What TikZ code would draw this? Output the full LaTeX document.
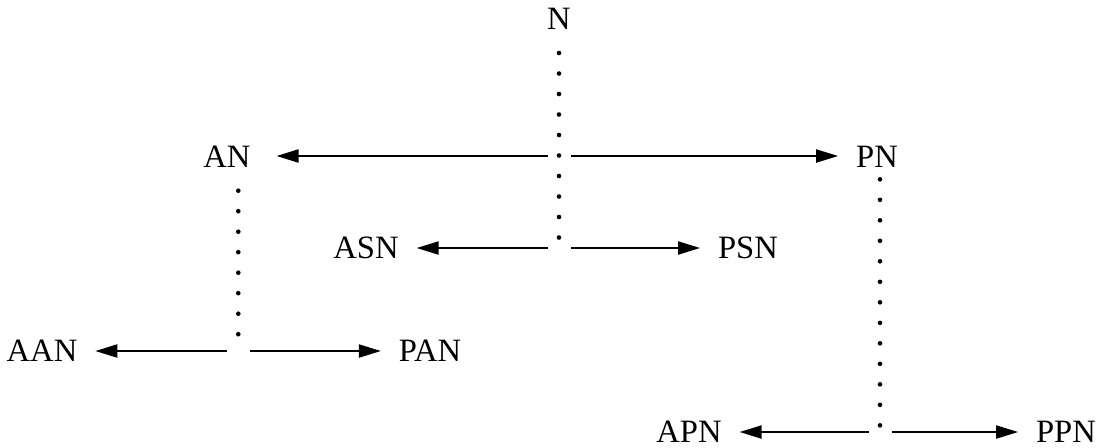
\documentclass[tikz,border=0pt]{standalone}
\usepackage{fontspec}
\setmainfont{Liberation Serif}
\usetikzlibrary{arrows.meta}
\begin{document}
\begin{tikzpicture}[x=0.5pt,y=-0.5pt,
  lbl/.style={inner sep=0pt, outer xsep=9pt, font=\fontsize{16.3}{19}\selectfont},
  arr/.style={line width=1pt, -{Triangle[length=11pt,width=6.5pt]}, shorten <=5.75pt},
  dotline/.style={line width=2.3pt, line cap=round, dash pattern=on 0pt off 10.25pt}]
\useasboundingbox (0,0) rectangle (1104,447);
% labels
\node[lbl] (N) at (559,19) {N};
\node[lbl] (AN) at (227,157) {AN};
\node[lbl] (PN) at (877,157) {PN};
\node[lbl] (ASN) at (366,248) {ASN};
\node[lbl] (PSN) at (748,248) {PSN};
\node[lbl] (AAN) at (42,351) {AAN};
\node[lbl] (PAN) at (430,351) {PAN};
\node[lbl] (APN) at (689,432) {APN};
\node[lbl] (PPN) at (1066,432) {PPN};
% junctions
\coordinate (J1) at (559.5,156);
\coordinate (J2) at (559.5,248);
\coordinate (J3) at (238.5,351);
\coordinate (J4) at (880,432);
% dotted stems
\coordinate (Ns) at (559,53);   \coordinate (Ne) at (559,240);
\coordinate (ANs) at (238.3,190.7); \coordinate (ANe) at (238.3,336);
\coordinate (PNs) at (880,179.3); \coordinate (PNe) at (880,427);
\draw[dotline] (Ns) -- (Ne);
\draw[dotline] (ANs) -- (ANe);
\draw[dotline] (PNs) -- (PNe);
% arrows
\draw[arr, shorten >=4pt] (J1) -- (AN.east |- J1);
\draw[arr] (J1) -- (PN.west |- J1);
\draw[arr] (J2) -- (ASN.east |- J2);
\draw[arr] (J2) -- (PSN.west |- J2);
\draw[arr] (J3) -- (AAN.east |- J3);
\draw[arr] (J3) -- (PAN.west |- J3);
\draw[arr] (J4) -- (APN.east |- J4);
\draw[arr] (J4) -- (PPN.west |- J4);
\end{tikzpicture}
\end{document}
